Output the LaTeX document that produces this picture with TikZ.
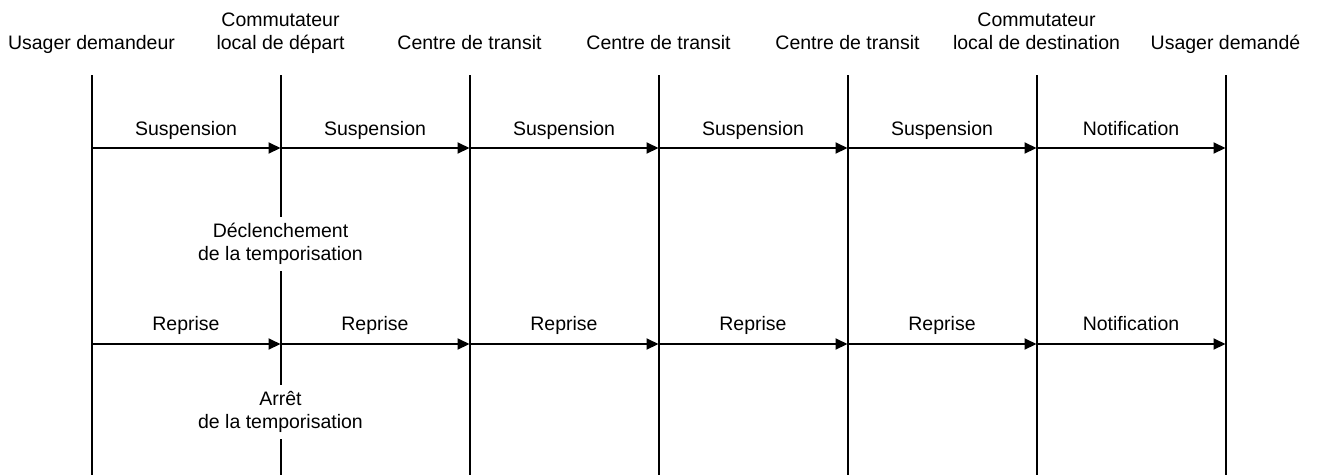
\documentclass[tikz,border=0pt]{standalone}
\usepackage{fontspec}
\setmainfont{Liberation Sans}
\usetikzlibrary{arrows.meta,calc}
\begin{document}
\begin{tikzpicture}[x=1pt,y=-1pt,
  txt/.style={font=\fontsize{19.5}{23.5}\selectfont, inner sep=0pt},
  hdr/.style={txt, anchor=base},
  lbl/.style={txt, anchor=base},
  life/.style={line width=2pt},
  msg/.style={line width=2pt, -{Triangle[length=12pt,width=11pt]}},
  note/.style={txt, align=center, fill=white, inner xsep=0pt, inner ysep=6pt}]
\useasboundingbox (0,0) rectangle (1319,475);
% lifeline coordinates
\foreach \i/\x in {1/91.5,2/280.5,3/469.5,4/658.5,5/847.5,6/1036.5,7/1225.5}{
  \coordinate (t\i) at (\x,75);
  \coordinate (b\i) at (\x,475);
  \coordinate (s\i) at (\x,148);
  \coordinate (r\i) at (\x,344);
}
\foreach \i in {1,...,7}{ \draw[life] (t\i) -- (b\i); }
% headers
\node[hdr] (h1) at (91.5,49) {Usager demandeur};
\node[hdr] (h2a) at (280.5,26) {Commutateur};
\node[hdr] (h2) at (280.5,49) {local de départ};
\node[hdr] (h3) at (469.5,49) {Centre de transit};
\node[hdr] (h4) at (658.5,49) {Centre de transit};
\node[hdr] (h5) at (847.5,49) {Centre de transit};
\node[hdr] (h6a) at (1036.5,26) {Commutateur};
\node[hdr] (h6) at (1036.5,49) {local de destination};
\node[hdr] (h7) at (1225.5,49) {Usager demandé};
% messages
\foreach \a/\b/\t in {1/2/Suspension,2/3/Suspension,3/4/Suspension,4/5/Suspension,5/6/Suspension,6/7/Notification}{
  \draw[msg] (s\a) -- (s\b);
  \node[lbl] (sl\a) at ($(s\a)!0.5!(s\b)+(0,-13)$) {\t};
}
\foreach \a/\b/\t in {1/2/Reprise,2/3/Reprise,3/4/Reprise,4/5/Reprise,5/6/Reprise,6/7/Notification}{
  \draw[msg] (r\a) -- (r\b);
  \node[lbl] (rl\a) at ($(r\a)!0.5!(r\b)+(0,-14)$) {\t};
}
% notes
\node[note, anchor=base] (n1) at (280.5,260.5) {Déclenchement\\de la temporisation};
\node[note, anchor=base] (n2) at (280.5,428.5) {Arrêt\\de la temporisation};
\end{tikzpicture}
\end{document}
